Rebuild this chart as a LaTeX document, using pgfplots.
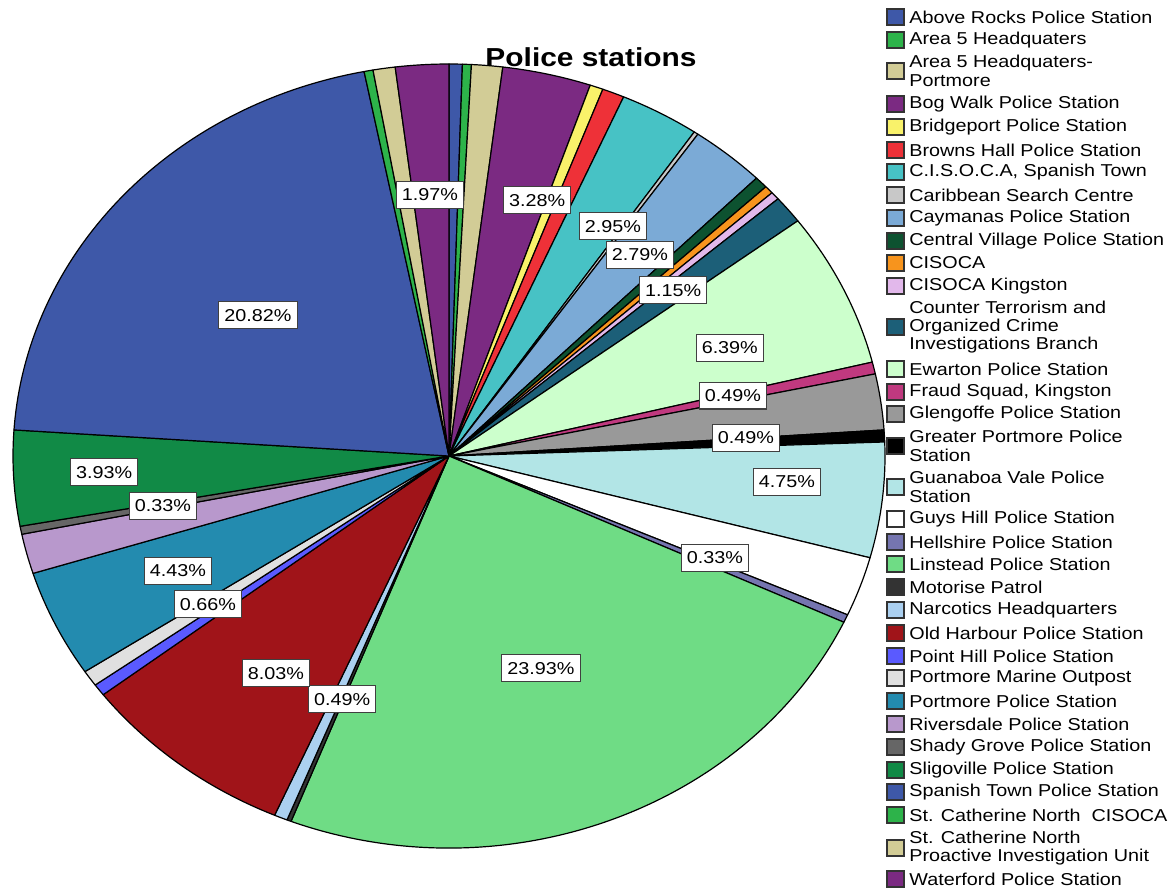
\documentclass[border=0pt]{standalone}
\usepackage{fontspec}
\setmainfont{Liberation Sans}[FakeStretch=1.15]
\usepackage{pgfplots}
\usepackage{pgfplotstable}
\pgfplotsset{compat=1.18}

\definecolor{c1}{HTML}{3E58A8}
\definecolor{c2}{HTML}{2DB34A}
\definecolor{c3}{HTML}{D2CC96}
\definecolor{c4}{HTML}{7B2A82}
\definecolor{c5}{HTML}{F9F26A}
\definecolor{c6}{HTML}{EE3138}
\definecolor{c7}{HTML}{47C2C5}
\definecolor{c8}{HTML}{C8C8C8}
\definecolor{c9}{HTML}{7BAAD6}
\definecolor{c10}{HTML}{0D5230}
\definecolor{c11}{HTML}{F7941D}
\definecolor{c12}{HTML}{E2B8EB}
\definecolor{c13}{HTML}{1C5F78}
\definecolor{c14}{HTML}{CCFFCC}
\definecolor{c15}{HTML}{C0397F}
\definecolor{c16}{HTML}{999999}
\definecolor{c17}{HTML}{000000}
\definecolor{c18}{HTML}{B2E5E6}
\definecolor{c19}{HTML}{FFFFFF}
\definecolor{c20}{HTML}{7575B0}
\definecolor{c21}{HTML}{6FDC85}
\definecolor{c22}{HTML}{333333}
\definecolor{c23}{HTML}{ABD0F0}
\definecolor{c24}{HTML}{A01419}
\definecolor{c25}{HTML}{5A5AFF}
\definecolor{c26}{HTML}{E0E0E0}
\definecolor{c27}{HTML}{238BAF}
\definecolor{c28}{HTML}{B898CC}
\definecolor{c29}{HTML}{666666}
\definecolor{c30}{HTML}{118A46}
\definecolor{c31}{HTML}{3E58A8}
\definecolor{c32}{HTML}{2DB34A}
\definecolor{c33}{HTML}{D2CC96}
\definecolor{c34}{HTML}{7B2A82}

\pgfplotstableread{
v lab lx ly
0.49 0 0 0
0.33 0 0 0
1.15 0 0 0
3.28 1 0.202 0.653
0.49 0 0 0
0.82 0 0 0
2.95 1 0.376 0.586
0.16 0 0 0
2.79 1 0.438 0.513
0.49 0 0 0
0.33 0 0 0
0.33 0 0 0
1.15 1 0.514 0.423
6.39 1 0.644 0.276
0.49 1 0.651 0.154
2.30 0 0 0
0.49 1 0.681 0.046
4.75 1 0.775 -0.066
2.46 0 0 0
0.33 1 0.610 -0.260
23.93 1 0.211 -0.541
0.16 0 0 0
0.49 1 -0.245 -0.620
8.03 1 -0.397 -0.554
0.49 0 0 0
0.66 1 -0.553 -0.378
4.43 1 -0.622 -0.293
1.64 0 0 0
0.33 1 -0.656 -0.127
3.93 1 -0.791 -0.041
20.82 1 -0.438 0.359
0.33 0 0 0
0.82 0 0 0
1.97 1 -0.044 0.666
}\pietable
\pgfplotstablecreatecol[create col/expr accum={\pgfmathaccuma + \thisrow{v}}{0}]{cum}\pietable

\begin{document}
\begin{tikzpicture}
\useasboundingbox (0pt,0pt) rectangle (585pt,-444pt);
\begin{axis}[
  at={(224.5pt,-228pt)}, anchor=origin,
  x=218pt, y=196pt,
  xmin=-1.01, xmax=1.01, ymin=-1.01, ymax=1.01,
  hide axis, clip=false]
\pgfplotsextra{%
  \pgfplotstablegetrowsof{\pietable}%
  \pgfmathtruncatemacro\nrows{\pgfplotsretval-1}%
  \pgfplotstablegetelem{\nrows}{cum}\of\pietable
  \pgfmathsetmacro\total{\pgfplotsretval}%
  \pgfmathsetmacro\dscale{360/\total}%
  \foreach \i in {0,...,\nrows}{%
    \pgfplotstablegetelem{\i}{cum}\of\pietable
    \pgfmathsetmacro\ce{\pgfplotsretval}%
    \pgfplotstablegetelem{\i}{v}\of\pietable
    \pgfmathsetmacro\vv{\pgfplotsretval}%
    \pgfmathsetmacro\aS{90-\dscale*(\ce-\vv)}%
    \pgfmathsetmacro\aE{90-\dscale*\ce}%
    \pgfmathtruncatemacro\ci{\i+1}%
    \filldraw[fill=c\ci, draw=black, line width=0.6pt, line join=round]
      (axis cs:0,0) -- (axis cs:{cos(\aS)},{sin(\aS)})
      arc[start angle=\aS, end angle=\aE, x radius=218pt, y radius=196pt] -- cycle;
  }%
  \foreach \i in {0,...,\nrows}{%
    \pgfplotstablegetelem{\i}{lab}\of\pietable
    \let\haslab\pgfplotsretval
    \ifnum\haslab=1
      \pgfplotstablegetelem{\i}{lx}\of\pietable \let\lxx\pgfplotsretval
      \pgfplotstablegetelem{\i}{ly}\of\pietable \let\lyy\pgfplotsretval
      \pgfplotstablegetelem{\i}{v}\of\pietable \let\vtxt\pgfplotsretval
      \node[fill=white, draw=black!75, line width=0.6pt, inner xsep=2.8pt, inner ysep=3.3pt,
            text height=6.4pt, text depth=0.4pt, font=\fontsize{8.6}{9.4}\selectfont]
        at (axis cs:\lxx,\lyy) {\vtxt\%};
    \fi
  }%
}
\end{axis}

\node[font=\fontsize{13}{15}\selectfont\bfseries] at (295.5pt,-28.5pt) {Police stations};

\foreach \yy/\txt [count=\k] in {
 17/{Above Rocks Police Station},
 40/{Area 5 Headquaters},
 71/{Area 5 Headquaters-\\Portmore},
 104/{Bog Walk Police Station},
 127/{Bridgeport Police Station},
 150/{Browns Hall Police Station},
 172/{C.I.S.O.C.A, Spanish Town},
 195/{Caribbean Search Centre},
 218/{Caymanas Police Station},
 241/{Central Village Police Station},
 263/{CISOCA},
 286/{CISOCA Kingston},
 327/{Counter Terrorism and\\Organized Crime\\Investigations Branch},
 369/{Ewarton Police Station},
 392/{Fraud Squad, Kingston},
 414/{Glengoffe Police Station},
 446/{Greater Portmore Police\\Station},
 487/{Guanaboa Vale Police\\Station},
 519/{Guys Hill Police Station},
 542/{Hellshire Police Station},
 564/{Linstead Police Station},
 587/{Motorise Patrol},
 610/{Narcotics Headquarters},
 633/{Old Harbour Police Station},
 656/{Point Hill Police Station},
 678/{Portmore Marine Outpost},
 701/{Portmore Police Station},
 724/{Riversdale Police Station},
 747/{Shady Grove Police Station},
 770/{Sligoville Police Station},
 792/{Spanish Town Police Station},
 815/{St. Catherine North \ CISOCA},
 848/{St. Catherine North\\Proactive Investigation Unit},
 879/{Waterford Police Station}}{
  \filldraw[fill=c\k, draw=black!80, line width=0.6pt]
    ({443.5pt},{-\yy*0.5pt+4pt}) rectangle ({452pt},{-\yy*0.5pt-4pt});
  \node[anchor=west, align=left, inner sep=0pt, font=\fontsize{8.6}{9.2}\selectfont]
    at ({454.5pt},{-\yy*0.5pt}) {\txt};
}
\end{tikzpicture}
\end{document}
